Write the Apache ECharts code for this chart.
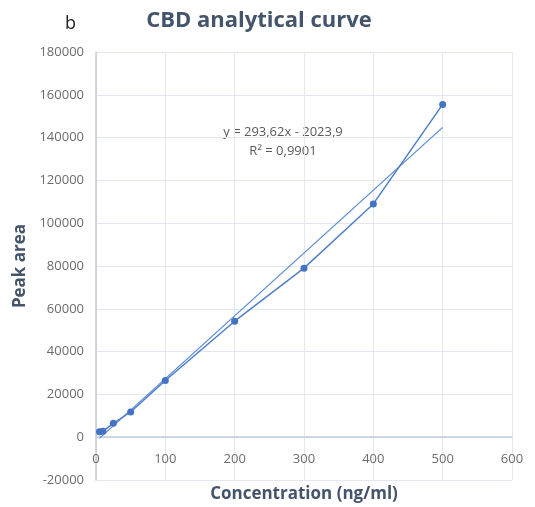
<!DOCTYPE html>
<html><head><meta charset="utf-8">
<script src="https://cdn.jsdelivr.net/npm/echarts@6/dist/echarts.min.js"></script>
<style>html,body{margin:0;padding:0;background:#fff}#c{width:535px;height:507px}</style>
</head><body><div id="c"></div>
<script>
var concentrations = [5, 10, 25, 50, 100, 200, 300, 400, 500];
var peakAreas = [2500, 2800, 6500, 11800, 26500, 54200, 79000, 109000, 155500];
var slope = 293.62, intercept = -2023.9;
var trendRange = [5, 500];
var xTicks = {min: 0, max: 600, interval: 100};
var yTicks = {min: -20000, max: 180000, interval: 20000};

var pts = concentrations.map(function(x, i){ return [x, peakAreas[i]]; });
var trend = trendRange.map(function(x){ return [x, slope * x + intercept]; });
var ff = '"Open Sans", "Liberation Sans", sans-serif';
var chart = echarts.init(document.getElementById('c'));
chart.setOption({
  animation: false,
  textStyle: {fontFamily: ff},
  grid: {left: 96, right: 23, top: 52, bottom: 27, containLabel: false, outerBoundsMode: 'none'},
  title: [
    {text: 'CBD analytical curve', left: 254, top: 5, textAlign: 'center',
     textStyle: {fontFamily: ff, fontSize: 22, fontWeight: 'bold', color: '#44546A'}},
    {text: 'b', left: 60, top: 10, textStyle: {fontFamily: ff, fontSize: 18, fontWeight: 'normal', color: '#222'}}
  ],
  xAxis: {
    type: 'value', min: xTicks.min, max: xTicks.max, interval: xTicks.interval,
    name: 'Concentration (ng/ml)', nameLocation: 'middle', nameGap: 6,
    nameTextStyle: {fontFamily: ff, fontSize: 17, fontWeight: 'bold', color: '#44546A'},
    axisLine: {onZero: true, lineStyle: {color: '#C3CCDA', width: 1.5}},
    axisTick: {show: false},
    axisLabel: {color: '#6B6B6B', fontSize: 13, margin: -27},
    splitLine: {show: true, lineStyle: {color: '#E3E8F0'}}
  },
  yAxis: {
    type: 'value', min: yTicks.min, max: yTicks.max, interval: yTicks.interval,
    name: 'Peak area', nameLocation: 'middle', nameGap: 61,
    nameTextStyle: {fontFamily: ff, fontSize: 17, fontWeight: 'bold', color: '#44546A'},
    axisLine: {show: true, lineStyle: {color: '#C3CCDA', width: 1.5}},
    axisTick: {show: false},
    axisLabel: {color: '#6B6B6B', fontSize: 13, margin: 12, formatter: function(v){ return String(v); }},
    splitLine: {show: true, lineStyle: {color: '#E3E8F0'}}
  },
  graphic: [
    {type: 'text', x: 283, y: 123, style: {text: 'y = 293,62x - 2023,9\nR² = 0,9901', textAlign: 'center',
      fill: '#595959', font: '13px ' + ff, lineHeight: 19}}
  ],
  series: [
    {type: 'line', data: pts, symbol: 'circle', symbolSize: 7,
     lineStyle: {color: '#4E7FCB', width: 1.5}, itemStyle: {color: '#4472C4'}, z: 3},
    {type: 'line', data: trend, symbol: 'none',
     lineStyle: {color: '#5B8BD5', width: 1.3}, z: 2}
  ]
});
</script></body></html>
